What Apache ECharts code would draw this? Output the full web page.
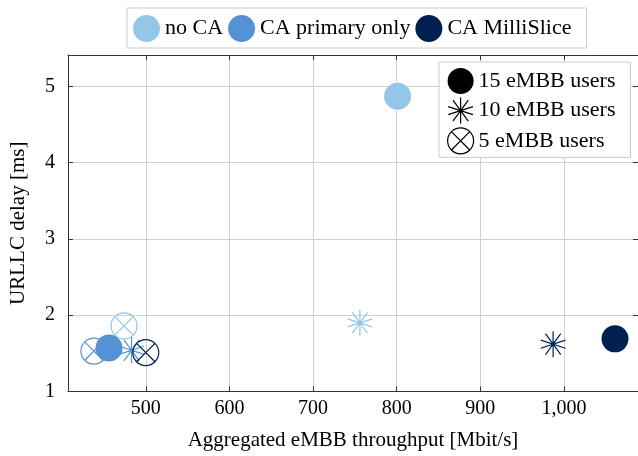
<!DOCTYPE html>
<html>
<head>
<meta charset="utf-8">
<script src="https://cdn.jsdelivr.net/npm/echarts@6/dist/echarts.min.js"></script>
<style>html,body{margin:0;padding:0;background:#fff}#c{width:638px;height:456px}</style>
</head>
<body>
<div id="c"></div>
<script>
// ---- data ----
const groups = ['no CA', 'CA primary only', 'CA MilliSlice'];
const userLabels = ['15 eMBB users', '10 eMBB users', '5 eMBB users'];
// each: [throughput Mbit/s, URLLC delay ms] for 15, 10, 5 eMBB users
const noCA = [[801, 4.87], [756, 1.90], [474, 1.86]];
const caPrimary = [[456, 1.57], [483, 1.54], [438, 1.53]];
const caMilliSlice = [[1061, 1.69], [987, 1.62], [500, 1.51]];
const xTicks = [500, 600, 700, 800, 900, 1000];
const yTicks = [1, 2, 3, 4, 5];

// ---- styles ----
const colors = ['#93c6e7', '#5592d3', '#002052'];
const FONT = 'Liberation Serif';
const STAR = 'path://M0,-1L0,1M0.5878,-0.809L-0.5878,0.809M-0.5878,-0.809L0.5878,0.809M0.9511,-0.309L-0.9511,0.309M-0.9511,-0.309L0.9511,0.309M0.12,0A0.12,0.12,0,1,1,-0.12,0A0.12,0.12,0,1,1,0.12,0Z';
const CIRCX = 'path://M1,0A1,1,0,1,1,-1,0A1,1,0,1,1,1,0ZM-0.7071,-0.7071L0.7071,0.7071M-0.7071,0.7071L0.7071,-0.7071';
const shapes = ['circle', STAR, CIRCX];
const sizes = [27, 26, 26];

function items(arr, c) {
  return arr.map((v, i) => ({
    value: v,
    symbol: shapes[i],
    symbolSize: sizes[i],
    itemStyle: i === 0 ? { color: c, borderWidth: 0, opacity: 1 }
      : i === 1 ? { color: c, borderColor: c, borderWidth: 1.2, opacity: 1 }
      : { color: 'rgba(0,0,0,0)', borderColor: c, borderWidth: 1.2, opacity: 1 }
  }));
}

const seriesData = [noCA, caPrimary, caMilliSlice];
const series = groups.map((g, k) => ({
  type: 'scatter', name: g, xAxisIndex: 0, yAxisIndex: 0,
  symbolKeepAspect: true,
  itemStyle: { color: colors[k], opacity: 1 },
  data: items(seriesData[k], colors[k]),
  emphasis: { disabled: true }
}));
userLabels.forEach((u, i) => {
  series.push({ type: 'scatter', name: u, data: [], itemStyle: { color: '#000', opacity: 1 } });
});

const axisFont = { fontFamily: FONT, fontSize: 20, color: '#000' };
const frameLine = { show: true, lineStyle: { color: '#333', width: 1 } };

const chart = echarts.init(document.getElementById('c'), null, { renderer: 'canvas' });
chart.setOption({
  animation: false,
  backgroundColor: '#fff',
  grid: { left: 68, right: 0, top: 55, bottom: 64.5, containLabel: false },
  xAxis: [{
    type: 'value', position: 'bottom', min: 407, max: 1088.5,
    axisLine: frameLine,
    axisTick: { show: true, inside: true, length: 5, lineStyle: { color: '#333' }, customValues: xTicks },
    axisLabel: { ...axisFont, margin: 7, customValues: xTicks,
      formatter: v => v.toLocaleString('en-US') },
    splitLine: { show: true, lineStyle: { color: '#d0d0d0', width: 1 } },
    name: 'Aggregated eMBB throughput [Mbit/s]', nameLocation: 'middle', nameGap: 38,
    nameTextStyle: { fontFamily: FONT, fontSize: 21, color: '#000' }
  }, {
    type: 'value', position: 'top', min: 407, max: 1088.5,
    axisLine: frameLine,
    axisTick: { show: true, inside: true, length: 5, lineStyle: { color: '#333' }, customValues: xTicks },
    axisLabel: { show: false }, splitLine: { show: false }
  }],
  yAxis: [{
    type: 'value', position: 'left', min: 1, max: 5.41,
    axisLine: frameLine,
    axisTick: { show: true, inside: true, length: 5, lineStyle: { color: '#333' }, customValues: yTicks },
    axisLabel: { ...axisFont, margin: 13, customValues: yTicks },
    splitLine: { show: true, lineStyle: { color: '#d0d0d0', width: 1 } },
    name: 'URLLC delay [ms]', nameLocation: 'middle', nameGap: 39, nameRotate: 90,
    nameTextStyle: { fontFamily: FONT, fontSize: 21, color: '#000' }
  }, {
    type: 'value', position: 'right', min: 1, max: 5.41,
    axisLine: frameLine,
    axisTick: { show: true, inside: true, length: 5, lineStyle: { color: '#333' }, customValues: yTicks },
    axisLabel: { show: false }, splitLine: { show: false }
  }],
  legend: [{
    orient: 'horizontal', left: 127, top: 8,
    padding: [7, 15, 6, 6], itemGap: 5, itemWidth: 27, itemHeight: 27,
    backgroundColor: '#fff', borderColor: '#cccccc', borderWidth: 1, borderRadius: 0,
    selectedMode: false,
    textStyle: { fontFamily: FONT, fontSize: 22, color: '#000' },
    data: groups.map((g, k) => ({ name: g, icon: 'circle', itemStyle: { color: colors[k], opacity: 1 } }))
  }, {
    orient: 'vertical', left: 439, top: 62,
    padding: [6, 15, 3, 8], itemGap: 3, itemWidth: 26, itemHeight: 26,
    backgroundColor: '#fff', borderColor: '#cccccc', borderWidth: 1, borderRadius: 0,
    selectedMode: false,
    textStyle: { fontFamily: FONT, fontSize: 22, color: '#000' },
    data: [
      { name: userLabels[0], icon: 'circle', itemStyle: { color: '#000', borderWidth: 0, opacity: 1 } },
      { name: userLabels[1], icon: STAR, itemStyle: { color: '#000', borderColor: '#000', borderWidth: 1.2, opacity: 1 } },
      { name: userLabels[2], icon: CIRCX, itemStyle: { color: 'rgba(0,0,0,0)', borderColor: '#000', borderWidth: 1.2, opacity: 1 } }
    ]
  }],
  series: series
});
</script>
</body>
</html>
